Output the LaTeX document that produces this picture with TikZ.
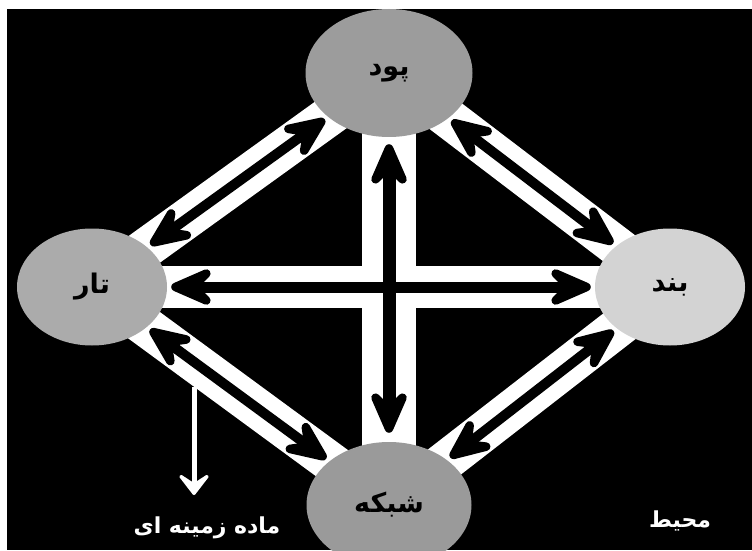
\documentclass[tikz,border=0pt]{standalone}
\usepackage{fontspec}
\newfontfamily\arabicfont[Script=Arabic]{DejaVu Sans}
\TeXXeTstate=1
\usetikzlibrary{arrows.meta,shapes.geometric}
\definecolor{poodgray}{HTML}{9C9C9C}
\definecolor{targray}{HTML}{ABABAB}
\definecolor{bandgray}{HTML}{D3D3D3}
\definecolor{shabakegray}{HTML}{9A9A9A}
\pgfdeclarelayer{backdrop}
\pgfdeclarelayer{bands}
\pgfsetlayers{backdrop,bands,main}

\begin{document}
\begin{tikzpicture}[
    x=1pt, y=1pt,
    disc/.style={ellipse, draw=none, minimum width=150pt, minimum height=117pt, text=black, font=\arabicfont\bfseries\fontsize{27}{30}\selectfont},
    bandline/.style={draw=white, line width=40pt},
    headtip/.style={arrows={Stealth[length=60pt,width=52pt,inset=26pt,round]-Stealth[length=60pt,width=52pt,inset=26pt,round]}},
    dblarrow/.style={headtip, draw=black, line width=10pt, shorten <=4pt, shorten >=4pt},
    droparrow/.style={-{Stealth[length=26pt,width=40pt,inset=13pt,round]}, draw=white, line width=5pt},
    caption/.style={text=white, font=\arabicfont\bfseries\fontsize{22}{25}\selectfont}
]
\useasboundingbox (0,0) rectangle (752,550);
\clip (0,0) rectangle (752,550);
\begin{pgfonlayer}{backdrop}
\fill[white] (0,0) rectangle (752,550);
\fill[black] (7,0) rectangle (752,541);
\end{pgfonlayer}

% the four circles
\node[disc, fill=poodgray, minimum width=167pt, minimum height=128pt] (pood) at (389,477) {\beginR پود\endR};
\node[disc, fill=targray] (tar) at (92,263) {\beginR تار\endR};
\node[disc, fill=bandgray] (band) at (670,263) {\beginR بند\endR};
\node[disc, fill=shabakegray, minimum width=165pt, minimum height=126pt] (shabake) at (389,45) {\beginR شبکه\endR};

% white bands behind the arrows
\begin{pgfonlayer}{bands}
\draw[bandline] (tar.center) -- (pood.center);
\draw[bandline] (pood.center) -- (band.center);
\draw[bandline] (band.center) -- (shabake.center);
\draw[bandline] (shabake.center) -- (tar.center);
\draw[bandline, line width=42pt] (tar.center) -- (band.center);
\draw[bandline, line width=54pt] (pood.center) -- (shabake.center);
\end{pgfonlayer}

% two-way arrows
\draw[dblarrow] (tar) -- (pood);
\draw[dblarrow] (pood) -- (band);
\draw[dblarrow] (band) -- (shabake);
\draw[dblarrow] (shabake) -- (tar);
\draw[dblarrow, line width=11pt] (tar) -- (band);
\draw[dblarrow, line width=13pt, shorten <=7pt, shorten >=9pt] (pood) -- (shabake);

% labels below
\node[caption] (matrix) at (207,22) {\beginR ماده زمینه ای\endR};
\node[caption] (env) at (680,29) {\beginR محیط\endR};
\coordinate (dropstart) at (194,163);
\coordinate (dropend) at (194,55);
\draw[droparrow] (dropstart) -- (dropend);
\end{tikzpicture}
\end{document}
